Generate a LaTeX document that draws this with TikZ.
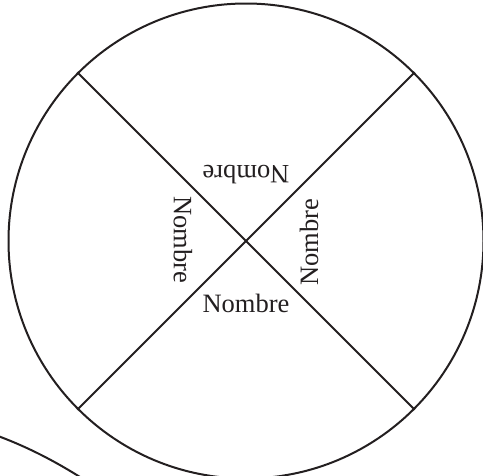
\documentclass[tikz,border=0pt]{standalone}
\usepackage{fontspec}
\setmainfont{Liberation Serif}
\definecolor{ink}{HTML}{231F20}
\begin{document}
\begin{tikzpicture}[x=1pt,y=-1pt,
  line/.style={draw=ink,line width=2pt},
  lbl/.style={inner sep=0pt,text=ink,font=\fontsize{26.5}{26.5}\selectfont}]
\clip (0,0) rectangle (483,475);
\useasboundingbox (0,0) rectangle (483,475);
\node[line,circle,minimum size=475pt,inner sep=0pt] (O) at (246,241) {};
\draw[line] (O.135) -- (O.-45);
\draw[line] (O.45) -- (O.-135);
\node[lbl] (b) at (246,303) {Nombre};
\node[lbl,rotate=180] (t) at (246,175) {Nombre};
\node[lbl,rotate=-90] (l) at (183,240) {Nombre};
\node[lbl,rotate=90] (r) at (309,242) {Nombre};
\coordinate (a1) at (-2,436);
\coordinate (a2) at (80,477);
\draw[line] (a1) .. controls (30,448) and (56,462) .. (a2);
\end{tikzpicture}
\end{document}
